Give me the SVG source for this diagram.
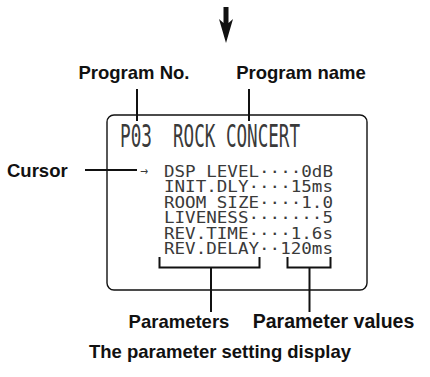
<svg xmlns="http://www.w3.org/2000/svg" width="430" height="377" viewBox="0 0 430 377">
  <style>
    .lbl { font-family: "Liberation Sans", Arial, sans-serif; font-weight: bold; font-size: 18.5px; fill: #111; }
    .lcd { font-family: "DejaVu Sans Mono", "Liberation Mono", monospace; fill: #3a3a3a; }
    .hdr { font-size: 32px; }
    .row { font-size: 16.5px; }
    .ln { stroke: #111; stroke-width: 2; fill: none; }
  </style>
  <rect width="430" height="377" fill="#fff"/>

  <g id="top-arrow">
    <path d="M223.5,7 H228.5 V23 L233,19 L226,43 L219,19 L223.5,23 Z" fill="#111"/>
  </g>

  <g id="display">
    <rect x="107" y="115" width="260" height="175" rx="7" ry="7" fill="none" stroke="#111" stroke-width="1.4"/>
    <text class="lcd hdr" x="120" y="147" textLength="32" lengthAdjust="spacingAndGlyphs">P03</text>
    <text class="lcd hdr" x="173" y="147" textLength="127" lengthAdjust="spacingAndGlyphs">ROCK CONCERT</text>
    <text x="140" y="174.5" font-size="12" font-family="DejaVu Sans, sans-serif" fill="#3a3a3a" textLength="8" lengthAdjust="spacingAndGlyphs">→</text>
    <text class="lcd row" x="164" y="176.7" textLength="169" lengthAdjust="spacingAndGlyphs">DSP LEVEL····0dB</text>
    <text class="lcd row" x="164" y="192.2" textLength="169" lengthAdjust="spacingAndGlyphs">INIT.DLY····15ms</text>
    <text class="lcd row" x="164" y="207.6" textLength="169" lengthAdjust="spacingAndGlyphs">ROOM SIZE····1.0</text>
    <text class="lcd row" x="164" y="223.1" textLength="169" lengthAdjust="spacingAndGlyphs">LIVENESS·······5</text>
    <text class="lcd row" x="164" y="238.5" textLength="169" lengthAdjust="spacingAndGlyphs">REV.TIME····1.6s</text>
    <text class="lcd row" x="164" y="254" textLength="169" lengthAdjust="spacingAndGlyphs">REV.DELAY··120ms</text>
  </g>

  <g id="label-program-no"><text class="lbl" x="134" y="79" text-anchor="middle">Program No.</text></g>
  <g id="label-program-name"><text class="lbl" x="301" y="79" text-anchor="middle">Program name</text></g>
  <g id="label-cursor"><text class="lbl" x="7" y="177">Cursor</text></g>
  <g id="label-parameters"><text class="lbl" x="179" y="328" text-anchor="middle">Parameters</text></g>
  <g id="label-values"><text class="lbl" x="333.5" y="328" text-anchor="middle" style="font-size:19.5px">Parameter values</text></g>
  <g id="caption"><text class="lbl" x="220" y="358" text-anchor="middle">The parameter setting display</text></g>

  <g id="connectors">
    <line class="ln" x1="137" y1="89" x2="137" y2="121"/>
    <line class="ln" x1="249" y1="89" x2="249" y2="121"/>
    <line class="ln" x1="85" y1="170" x2="137" y2="170"/>
    <path class="ln" d="M159.5,257 V267.5 H259.5 V257"/>
    <line class="ln" x1="211" y1="267.5" x2="211" y2="312"/>
    <path class="ln" d="M287.5,257 V267.5 H330.5 V257"/>
    <line class="ln" x1="309.5" y1="267.5" x2="309.5" y2="312"/>
  </g>
</svg>
